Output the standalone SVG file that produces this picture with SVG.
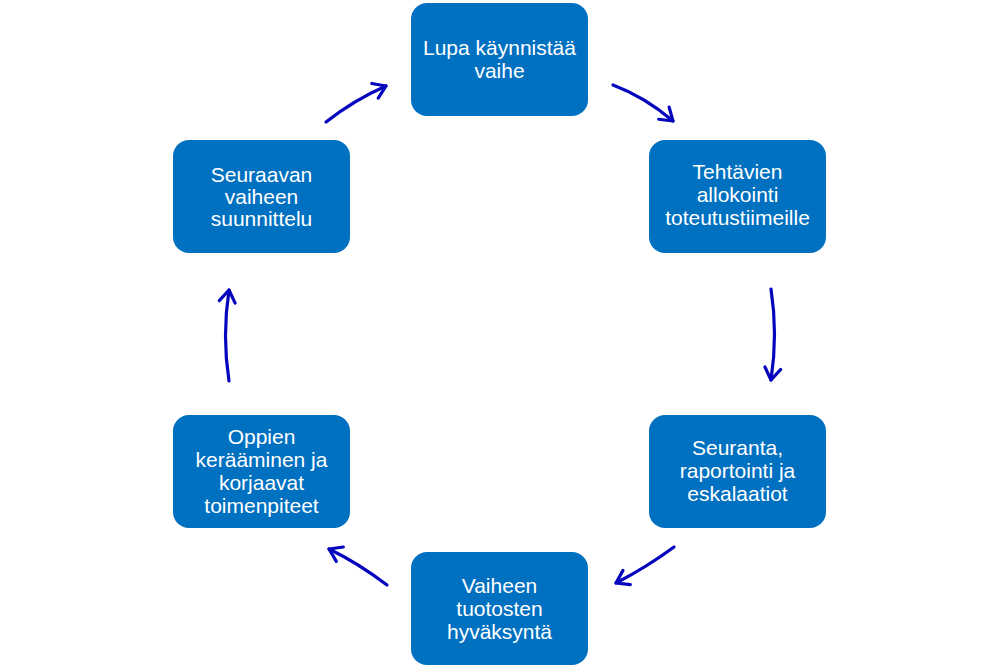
<svg xmlns="http://www.w3.org/2000/svg" width="1000" height="669" viewBox="0 0 1000 669">
<style>
.box{fill:#0070C0;}
.lbl{font-family:"Liberation Sans",Arial,sans-serif;font-size:21px;fill:#ffffff;text-anchor:middle;}
.arr{fill:none;stroke:#0505BE;stroke-width:3.2;stroke-linecap:round;marker-end:url(#ah);}
</style>
<defs>
<marker id="ah" markerUnits="userSpaceOnUse" markerWidth="30" markerHeight="30" refX="0" refY="0" viewBox="-15 -15 30 30" orient="auto" overflow="visible">
<path d="M -12 -8 L 0 0 L -12 8" fill="none" stroke="#0505BE" stroke-width="3.2" stroke-linecap="round" stroke-linejoin="round"/>
</marker>
</defs>
<rect width="1000" height="669" fill="#ffffff"/>
<g id="connectors">
<path class="arr" d="M 613 85 Q 645 97 673 121"/>
<path class="arr" d="M 771 289 Q 778 334 771 380"/>
<path class="arr" d="M 674 547 Q 647 567 616 583"/>
<path class="arr" d="M 387 585 Q 358 563 329 549"/>
<path class="arr" d="M 229 381 Q 222 336 229 290"/>
<path class="arr" d="M 326 122 Q 354 100 386 86"/>
</g>
<g id="n1"><rect class="box" x="411" y="3" width="177" height="113" rx="16"/>
<text class="lbl" x="499.5" y="55">Lupa käynnistää</text><text class="lbl" x="499.5" y="78">vaihe</text></g>
<g id="n2"><rect class="box" x="649" y="140" width="177" height="113" rx="16"/>
<text class="lbl" x="737.5" y="179">Tehtävien</text><text class="lbl" x="737.5" y="202">allokointi</text><text class="lbl" x="737.5" y="225">toteutustiimeille</text></g>
<g id="n3"><rect class="box" x="649" y="415" width="177" height="113" rx="16"/>
<text class="lbl" x="737.5" y="455">Seuranta,</text><text class="lbl" x="737.5" y="478">raportointi ja</text><text class="lbl" x="737.5" y="501">eskalaatiot</text></g>
<g id="n4"><rect class="box" x="411" y="552" width="177" height="113" rx="16"/>
<text class="lbl" x="499.5" y="593">Vaiheen</text><text class="lbl" x="499.5" y="616">tuotosten</text><text class="lbl" x="499.5" y="639">hyväksyntä</text></g>
<g id="n5"><rect class="box" x="173" y="415" width="177" height="113" rx="16"/>
<text class="lbl" x="261.5" y="444">Oppien</text><text class="lbl" x="261.5" y="467">kerääminen ja</text><text class="lbl" x="261.5" y="490">korjaavat</text><text class="lbl" x="261.5" y="513">toimenpiteet</text></g>
<g id="n6"><rect class="box" x="173" y="140" width="177" height="113" rx="16"/>
<text class="lbl" x="261.5" y="182">Seuraavan</text><text class="lbl" x="261.5" y="204">vaiheen</text><text class="lbl" x="261.5" y="226">suunnittelu</text></g>
</svg>
